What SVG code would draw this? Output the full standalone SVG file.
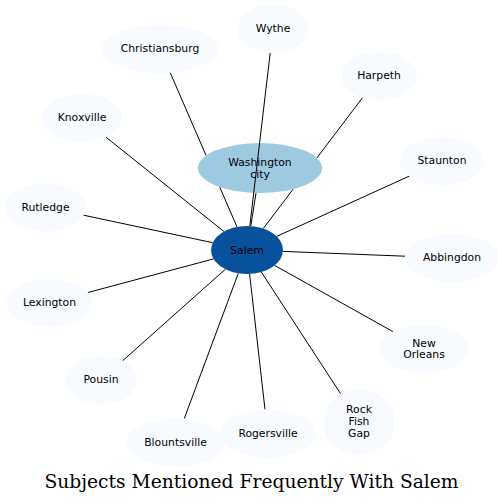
<svg xmlns="http://www.w3.org/2000/svg" width="503" height="504" viewBox="0 0 503 504">
<style>
.e{stroke:#000;stroke-width:1;fill:none}
.n{fill:#f7fbff}
.t{font-family:"DejaVu Sans",sans-serif;font-size:10.8px;fill:#000;text-anchor:middle}
.title{font-family:"DejaVu Serif",serif;font-size:18.7px;fill:#000;text-anchor:middle}
</style>
<rect width="503" height="504" fill="#fff"/>
<g id="connectors">
<line class="e" x1="237.0" y1="226.9" x2="219.7" y2="187.0"/>
<line class="e" x1="206.1" y1="155.6" x2="170.2" y2="72.6"/>
<line class="e" x1="263.2" y1="228.6" x2="293.2" y2="189.1"/>
<line class="e" x1="316.8" y1="158.0" x2="362.6" y2="97.6"/>
<line class="e" x1="250.8" y1="226.1" x2="256.0" y2="193.0"/>
<line class="e" x1="224.0" y1="231.6" x2="106.0" y2="137.2"/>
<line class="e" x1="276.7" y1="236.4" x2="409.5" y2="176.0"/>
<line class="e" x1="212.7" y1="242.7" x2="82.7" y2="215.0"/>
<line class="e" x1="283.0" y1="251.4" x2="405.1" y2="256.2"/>
<line class="e" x1="213.6" y1="258.9" x2="87.6" y2="292.6"/>
<line class="e" x1="274.6" y1="265.4" x2="392.9" y2="331.6"/>
<line class="e" x1="225.4" y1="269.2" x2="122.6" y2="360.8"/>
<line class="e" x1="261.3" y1="272.0" x2="340.6" y2="393.7"/>
<line class="e" x1="249.6" y1="273.9" x2="265.0" y2="409.5"/>
<line class="e" x1="238.3" y1="273.3" x2="184.3" y2="418.4"/>
</g>
<g id="node-washington"><ellipse cx="260" cy="168" rx="62" ry="25" fill="#9ecae1"/><text class="t" x="260" y="166">Washington</text><text class="t" x="260" y="177.7">city</text></g>
<g id="connectors-over"><line class="e" x1="249.8" y1="226.1" x2="270.2" y2="52.9"/></g>
<g id="node-salem"><ellipse cx="247" cy="250" rx="36" ry="24" fill="#08519c"/><text class="t" x="247" y="253.5">Salem</text></g>
<g id="node-wythe"><ellipse class="n" cx="273" cy="29" rx="36" ry="24"/><text class="t" x="273" y="32.3">Wythe</text></g>
<g id="node-christiansburg"><ellipse class="n" cx="160" cy="49" rx="58" ry="24"/><text class="t" x="160" y="52.3">Christiansburg</text></g>
<g id="node-harpeth"><ellipse class="n" cx="379" cy="76" rx="38" ry="24"/><text class="t" x="379" y="79.3">Harpeth</text></g>
<g id="node-knoxville"><ellipse class="n" cx="82" cy="118" rx="40" ry="24"/><text class="t" x="82" y="121.3">Knoxville</text></g>
<g id="node-staunton"><ellipse class="n" cx="442" cy="161" rx="42" ry="24"/><text class="t" x="442" y="164.3">Staunton</text></g>
<g id="node-rutledge"><ellipse class="n" cx="45.5" cy="207.5" rx="40.5" ry="24"/><text class="t" x="45.5" y="210.5">Rutledge</text></g>
<g id="node-abbingdon"><ellipse class="n" cx="452" cy="258" rx="47" ry="24"/><text class="t" x="452" y="261.2">Abbingdon</text></g>
<g id="node-lexington"><ellipse class="n" cx="49.5" cy="303" rx="43" ry="24"/><text class="t" x="49.5" y="306.2">Lexington</text></g>
<g id="node-neworleans"><ellipse class="n" cx="424" cy="349" rx="45" ry="24"/><text class="t" x="424" y="346.7">New</text><text class="t" x="424" y="358.4">Orleans</text></g>
<g id="node-pousin"><ellipse class="n" cx="101" cy="380" rx="36" ry="24"/><text class="t" x="101" y="383.3">Pousin</text></g>
<g id="node-rockfishgap"><ellipse class="n" cx="359" cy="422" rx="36" ry="33"/><text class="t" x="359" y="413.3">Rock</text><text class="t" x="359" y="425">Fish</text><text class="t" x="359" y="436.7">Gap</text></g>
<g id="node-rogersville"><ellipse class="n" cx="268" cy="433.5" rx="48" ry="24"/><text class="t" x="268" y="436.8">Rogersville</text></g>
<g id="node-blountsville"><ellipse class="n" cx="175.5" cy="442.5" rx="49" ry="24"/><text class="t" x="175.5" y="445.8">Blountsville</text></g>
<text class="title" x="251.5" y="488">Subjects Mentioned Frequently With Salem</text>
</svg>
